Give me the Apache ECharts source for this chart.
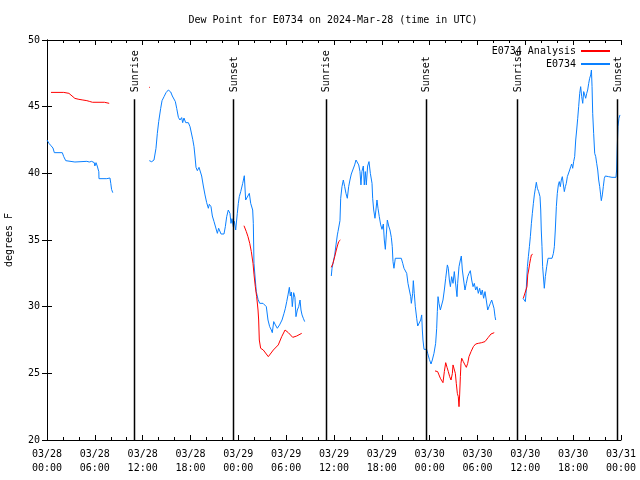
<!DOCTYPE html>
<html>
<head>
<meta charset="utf-8">
<script src="https://cdn.jsdelivr.net/npm/echarts@6/dist/echarts.min.js"></script>
<style>html,body{margin:0;padding:0;background:#fff}#c{width:640px;height:480px}</style>
</head>
<body>
<div id="c"></div>
<script>
// time in hours since 2024-03-28 00:00 UTC, value in degrees F
const blue1 = [[0,42.5],[0.25,42.25],[0.5,42.07],[0.75,41.9],[0.92,41.55],[1.92,41.55],[2.1,41.25],[2.35,40.95],[2.47,40.85],[3.5,40.85],[3.6,40.9],[5.0,40.9],[5.3,40.85],[5.6,40.9],[5.93,40.8],[6.0,40.55],[6.15,40.8],[6.3,40.55],[6.5,40.12],[6.52,39.6],[7.5,39.6],[7.55,39.65],[7.9,39.65],[8.0,39.25],[8.1,38.8],[8.25,38.55]];
const blue2 = [[12.83,40.95],[13.13,40.87],[13.42,41.0],[13.67,41.87],[13.84,43.0],[14.01,43.88],[14.26,44.87],[14.43,45.45],[14.68,45.75],[14.93,46.05],[15.22,46.25],[15.52,46.1],[15.72,45.8],[15.93,45.75],[16.1,45.38],[16.27,44.87],[16.48,44.2],[16.68,44.0],[16.89,44.18],[17.02,43.8],[17.18,44.15],[17.4,43.8],[17.73,43.8],[17.94,43.5],[18.14,43.5],[18.28,42.55],[18.44,42.0],[18.56,41.3],[18.69,40.45],[18.86,40.2],[19.07,40.45],[19.27,40.3],[19.4,39.8],[19.61,39.05],[19.82,38.38],[20.03,37.8],[20.24,37.38],[20.36,37.68],[20.57,37.5],[20.74,36.8],[20.95,36.38],[21.2,36.3],[21.37,35.5],[21.53,35.88],[21.7,35.75],[21.83,35.45],[22.2,35.45],[22.37,36.0],[22.54,36.75],[22.74,37.25],[22.95,37.0],[23.08,36.25],[23.2,36.6],[23.37,36.0],[23.5,36.4],[23.67,35.75],[23.87,37.0],[24.0,37.75],[24.12,38.25],[24.3,38.63],[24.55,39.25],[24.75,39.82],[24.92,38.0],[25.13,37.9],[25.38,38.5],[25.55,37.75],[25.8,37.25],[25.88,36.25],[25.96,33.25],[26.13,32.0],[26.25,31.13],[26.47,30.55],[26.68,30.25],[27.1,30.25],[27.3,30.3],[27.51,30.0],[27.72,29.0],[27.93,28.5],[28.14,28.25],[28.26,28.05],[28.44,28.88],[28.65,28.63],[28.89,28.38],[29.17,28.63],[29.48,29.0],[29.73,29.5],[29.9,29.88],[30.07,30.38],[30.23,30.88],[30.4,31.45],[30.52,30.8],[30.65,31.1],[30.77,30.0],[30.94,31.05],[31.1,30.7],[31.23,29.25],[31.4,29.75],[31.57,30.0],[31.74,30.5],[31.86,29.75],[31.99,29.38],[32.15,29.13],[32.32,28.88]];
const blue3 = [[35.66,32.3],[35.75,32.88],[35.92,33.38],[36.09,33.88],[36.25,34.63],[36.42,35.38],[36.5,35.63],[36.67,35.5],[36.75,36.45],[36.84,38.13],[37.0,39.0],[37.17,39.5],[37.34,39.0],[37.5,38.5],[37.67,38.13],[37.84,39.0],[38.0,39.5],[38.17,39.95],[38.42,40.05],[38.59,40.63],[38.76,41.0],[38.93,41.05],[39.1,40.63],[39.26,40.13],[39.38,39.13],[39.5,40.13],[39.68,40.55],[39.8,39.13],[39.93,40.13],[40.05,39.13],[40.22,40.55],[40.39,40.88],[40.56,40.0],[40.77,39.25],[40.85,38.13],[40.98,37.25],[41.14,36.63],[41.26,37.25],[41.39,38.0],[41.52,37.38],[41.68,36.75],[41.86,36.13],[42.02,35.8],[42.19,36.2],[42.31,35.0],[42.44,34.3],[42.56,35.38],[42.69,36.5],[42.86,36.05],[43.02,35.75],[43.19,35.2],[43.31,34.5],[43.4,33.38],[43.52,32.88],[43.69,33.63],[44.44,33.63],[44.62,33.25],[44.78,32.88],[44.94,32.88],[45.12,32.5],[45.28,31.75],[45.45,31.25],[45.62,30.75],[45.7,30.25],[45.87,31.0],[45.95,31.95],[46.07,31.0],[46.2,30.0],[46.37,29.13],[46.5,28.55],[46.7,28.55],[46.87,29.0],[47.0,29.38],[47.08,28.25],[47.16,27.5],[47.29,26.8],[47.62,26.8],[47.75,26.5],[47.96,26.05],[48.17,25.7],[48.33,26.0],[48.54,26.5],[48.75,27.25],[48.88,28.38],[48.96,29.63],[49.05,30.75],[49.17,30.25],[49.34,29.75],[49.5,29.75],[49.67,30.5],[49.84,31.25],[50.01,32.13],[50.22,33.13],[50.34,32.88],[50.47,32.0],[50.6,31.5],[50.76,32.25],[50.93,31.75],[51.09,32.63],[51.26,32.75],[51.43,30.75],[51.51,31.75],[51.68,33.0],[51.85,33.5],[51.97,33.8],[52.1,32.75],[52.26,32.0],[52.43,31.25],[52.6,31.75],[52.77,32.25],[52.93,32.5],[53.1,32.7],[53.27,32.0],[53.44,31.5],[53.6,31.75],[53.77,31.25],[53.94,31.5],[54.1,31.0],[54.27,31.38],[54.44,30.88],[54.6,31.25],[54.77,30.63],[54.94,31.13],[55.1,30.5],[55.28,29.75],[55.44,30.0],[55.61,30.25],[55.78,30.5],[55.94,30.38],[56.07,29.88],[56.2,29.25],[56.28,29.0]];
const blue4 = [[59.71,30.63],[59.92,30.7],[60.0,30.38],[60.09,31.0],[60.17,32.0],[60.26,33.0],[60.38,33.75],[60.51,34.5],[60.63,35.25],[60.76,36.25],[60.88,37.0],[61.01,37.75],[61.13,38.38],[61.26,38.88],[61.38,39.33],[61.51,38.88],[61.67,38.63],[61.84,38.25],[61.93,37.25],[62.0,35.75],[62.09,34.5],[62.17,33.0],[62.3,32.0],[62.38,31.38],[62.51,32.25],[62.68,33.0],[62.85,33.63],[63.35,33.63],[63.52,34.0],[63.64,34.5],[63.76,35.75],[63.89,37.5],[64.01,38.5],[64.14,39.13],[64.26,39.38],[64.39,39.0],[64.51,39.5],[64.64,39.75],[64.77,39.88],[64.89,38.63],[65.02,39.0],[65.14,39.25],[65.27,39.75],[65.44,39.88],[65.56,40.25],[65.69,40.5],[65.81,40.7],[65.94,40.38],[66.06,40.88],[66.19,41.25],[66.32,42.5],[66.44,43.25],[66.57,44.13],[66.69,45.0],[66.82,46.0],[66.94,46.5],[67.07,45.75],[67.2,45.25],[67.32,46.13],[67.45,45.88],[67.57,45.63],[67.7,46.0],[67.82,46.25],[67.95,46.75],[68.07,47.13],[68.2,47.38],[68.29,47.75],[68.37,46.5],[68.45,44.5],[68.57,43.0],[68.7,41.5],[68.83,41.25],[68.95,40.75],[69.08,40.25],[69.2,39.5],[69.33,39.0],[69.45,38.38],[69.53,37.95],[69.66,38.38],[69.78,39.0],[69.91,39.63],[70.03,39.8],[70.24,39.7],[70.45,39.75],[70.87,39.7],[71.37,39.7],[71.45,40.25],[71.53,42.0],[71.62,43.5],[71.74,44.13],[71.87,44.38]];
const red1 = [[0.5,46.07],[2.1,46.07],[2.15,46.0],[2.75,46.0],[3.0,45.85],[3.5,45.62],[4.0,45.55],[4.5,45.5],[5.0,45.45],[5.3,45.4],[5.7,45.33],[7.2,45.33],[7.25,45.25],[7.8,45.25]];
const red2 = [[12.8,46.45],[12.9,46.45]];
const red3 = [[24.71,36.07],[24.88,36.0],[25.0,35.63],[25.21,35.25],[25.43,34.75],[25.63,34.13],[25.84,33.25],[25.97,32.38],[26.13,31.5],[26.3,30.75],[26.47,29.75],[26.55,29.0],[26.63,27.5],[26.8,26.88],[27.13,26.75],[27.76,26.25],[28.39,26.75],[29.01,27.13],[29.44,27.75],[29.86,28.25],[30.27,28.05],[30.82,27.7],[31.32,27.8],[31.95,28.0]];
const red4 = [[35.66,32.95],[35.87,33.25],[36.09,33.75],[36.29,34.25],[36.46,34.63],[36.59,34.88],[36.8,35.0]];
const red5 = [[48.67,25.18],[49.0,25.13],[49.17,24.88],[49.34,24.63],[49.5,24.5],[49.67,24.3],[49.84,25.13],[50.01,25.8],[50.18,25.45],[50.34,25.13],[50.51,24.75],[50.68,24.5],[50.85,25.0],[50.93,25.63],[51.09,25.75],[51.22,25.0],[51.34,24.25],[51.47,23.5],[51.59,23.25],[51.68,22.5],[51.76,23.38],[51.85,24.75],[51.93,25.75],[52.02,26.13],[52.22,25.88],[52.43,25.63],[52.6,25.45],[52.77,25.75],[52.93,26.25],[53.19,26.63],[53.48,27.0],[53.77,27.2],[54.1,27.25],[54.52,27.3],[54.94,27.38],[55.36,27.7],[55.69,27.95],[55.9,28.05],[56.1,28.05]];
const red6 = [[59.75,30.63],[60.0,30.7],[60.21,31.5],[60.3,32.38],[60.42,32.75],[60.55,33.25],[60.67,33.63],[60.76,33.88],[60.92,33.93]];

const sunTimes = [10.95, 23.37, 34.98, 47.48, 58.98, 71.5];
const sunLabels = ['Sunrise','Sunset','Sunrise','Sunset','Sunrise','Sunset'];
const sunLineTop = 45.55;

const yMin = 20, yMax = 50, yStep = 5;
const xMin = 0, xMax = 72, xStep = 6;

function joinSegs(segs){
  const out = [];
  segs.forEach((s, i) => {
    if (i > 0) out.push([s[0][0] - 0.01, '-']);
    s.forEach(p => out.push(p));
  });
  return out;
}

function xLabel(h){
  const d = 28 + Math.floor(h / 24);
  const hh = Math.round(h % 24);
  return '03/' + d + '\n' + String(hh).padStart(2,'0') + ':00';
}

const FONT = '"DejaVu Sans Mono", monospace';
const chart = echarts.init(document.getElementById('c'), null, {renderer:'canvas'});
chart.setOption({
  animation: false,
  backgroundColor: '#fff',
  title: {
    text: 'Dew Point for E0734 on 2024-Mar-28 (time in UTC)',
    left: 328, top: 10, textAlign: 'center',
    textStyle: {fontFamily: FONT, fontSize: 10, fontWeight: 'normal', color: '#000'}
  },
  legend: {
    orient: 'vertical', right: 25, top: 40, align: 'right',
    itemWidth: 29, itemHeight: 2, itemGap: 1, icon: 'rect',
    data: ['E0734 Analysis', 'E0734'],
    textStyle: {fontFamily: FONT, fontSize: 10, color: '#000', lineHeight: 12}
  },
  grid: {left: 47, right: 19, top: 40, bottom: 40, containLabel: false, outerBoundsMode: 'none'},
  xAxis: [{
    type: 'value', min: xMin, max: xMax, interval: xStep, position: 'bottom',
    axisLine: {lineStyle: {color: '#000', width: 1}},
    axisTick: {inside: true, length: 5, lineStyle: {color: '#000'}},
    minorTick: {show: true, splitNumber: 3, length: 3, lineStyle: {color: '#000'}},
    splitLine: {show: false},
    axisLabel: {formatter: xLabel, fontFamily: FONT, fontSize: 10, color: '#000', lineHeight: 14, margin: 7}
  }, {
    type: 'value', min: xMin, max: xMax, interval: xStep, position: 'top',
    axisLine: {lineStyle: {color: '#000', width: 1}},
    axisTick: {inside: true, length: 5, lineStyle: {color: '#000'}},
    minorTick: {show: true, splitNumber: 3, length: 3, lineStyle: {color: '#000'}},
    splitLine: {show: false}, axisLabel: {show: false}
  }],
  yAxis: [{
    type: 'value', min: yMin, max: yMax, interval: yStep, position: 'left',
    name: 'degrees F', nameLocation: 'middle', nameGap: 33, nameRotate: 90,
    nameTextStyle: {fontFamily: FONT, fontSize: 10, color: '#000'},
    axisLine: {show: true, lineStyle: {color: '#000', width: 1}},
    axisTick: {show: true, inside: true, length: 5, lineStyle: {color: '#000'}},
    splitLine: {show: false},
    axisLabel: {fontFamily: FONT, fontSize: 10, color: '#000', margin: 7}
  }, {
    type: 'value', min: yMin, max: yMax, interval: yStep, position: 'right',
    axisLine: {show: true, lineStyle: {color: '#000', width: 1}},
    axisTick: {show: true, inside: true, length: 5, lineStyle: {color: '#000'}},
    splitLine: {show: false}, axisLabel: {show: false}
  }],
  series: [{
    name: 'E0734 Analysis', type: 'line', xAxisIndex: 0, yAxisIndex: 0,
    showSymbol: false, symbol: 'none', connectNulls: false,
    color: '#ff0000', lineStyle: {color: '#ff0000', width: 1},
    data: joinSegs([red1, red2, red3, red4, red5, red6]), z: 3
  }, {
    name: 'E0734', type: 'line', xAxisIndex: 0, yAxisIndex: 0,
    showSymbol: false, symbol: 'none', connectNulls: false,
    color: '#0a80ff', lineStyle: {color: '#0a80ff', width: 1},
    data: joinSegs([blue1, blue2, blue3, blue4]), z: 2
  }, {
    name: 'sun', type: 'custom', xAxisIndex: 0, yAxisIndex: 0, clip: false, z: 4,
    data: sunTimes.map(t => [t, yMin]),
    encode: {x: 0, y: 1},
    renderItem: function(params, api){
      const t = api.value(0);
      const b = api.coord([t, yMin]);
      const tp = api.coord([t, sunLineTop]);
      return {type: 'group', children: [
        {type: 'line', shape: {x1: Math.round(b[0]) + 0.5, y1: b[1], x2: Math.round(tp[0]) + 0.5, y2: tp[1]},
         style: {stroke: '#000', lineWidth: 1.5}},
        {type: 'text', x: tp[0] + 1, y: tp[1] - 7, rotation: Math.PI / 2,
         style: {text: sunLabels[params.dataIndex], font: '10px ' + FONT, fill: '#000', align: 'left', verticalAlign: 'middle'}}
      ]};
    }
  }]
});
</script>
</body>
</html>
